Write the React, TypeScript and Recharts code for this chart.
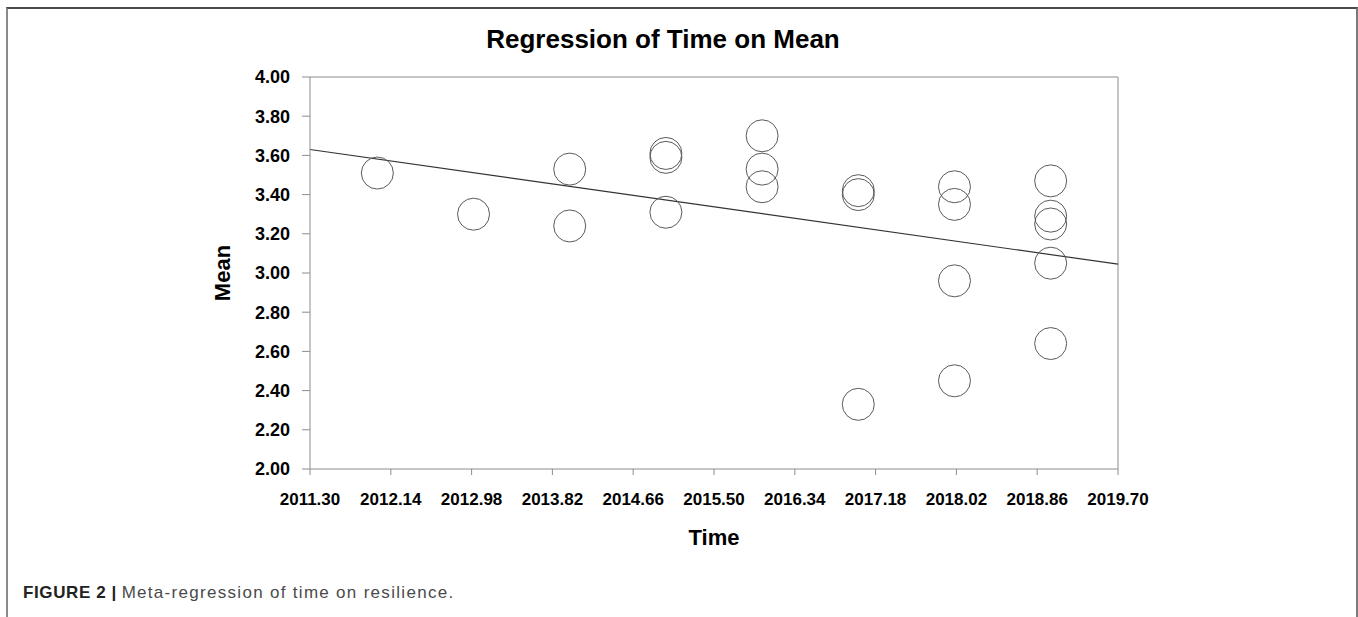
import React from 'react';
import {
  ScatterChart,
  Scatter,
  XAxis,
  YAxis,
  ReferenceLine,
} from 'recharts';

// study year and mean resilience score
const times = [2012, 2013, 2014, 2014, 2015, 2015, 2015, 2016, 2016, 2016, 2017, 2017, 2017, 2018, 2018, 2018, 2018, 2019, 2019, 2019, 2019, 2019];
const means = [3.51, 3.30, 3.53, 3.24, 3.61, 3.59, 3.31, 3.70, 3.53, 3.44, 3.42, 3.40, 2.33, 3.44, 3.35, 2.96, 2.45, 3.47, 3.29, 3.25, 3.05, 2.64];

const xTicks = [2011.3, 2012.14, 2012.98, 2013.82, 2014.66, 2015.5, 2016.34, 2017.18, 2018.02, 2018.86, 2019.7];
const yTicks = [2.0, 2.2, 2.4, 2.6, 2.8, 3.0, 3.2, 3.4, 3.6, 3.8, 4.0];

// regression line end points
const fitStart = { x: 2011.3, y: 3.63 };
const fitEnd = { x: 2019.7, y: 3.045 };

const points = times.map((t, i) => ({ time: t, mean: means[i] }));

const FONT = '"Liberation Sans", Arial, Helvetica, sans-serif';
const axisGray = '#8c8c8c';

const RingShape = (props: any) => (
  <circle cx={props.cx} cy={props.cy} r={16} fill="none" stroke="#5a5a5a" strokeWidth={1} />
);

const App = () => {
  return (
    <div style={{ position: 'absolute', left: 0, top: 0, width: 1358, height: 617, background: '#fff', fontFamily: FONT }}>
      {/* figure frame */}
      <div
        style={{
          position: 'absolute',
          left: 6,
          top: 7,
          width: 1348,
          height: 610,
          borderTop: '2px solid #4a4a4a',
          borderLeft: '2px solid #8a8a8a',
          borderRight: '2px solid #7a7a7a',
        }}
      />
      <div
        style={{
          position: 'absolute',
          left: 0,
          width: 1326,
          top: 24,
          textAlign: 'center',
          fontSize: 26,
          fontWeight: 'bold',
          color: '#000',
        }}
      >
        Regression of Time on Mean
      </div>

      <div style={{ position: 'absolute', left: 0, top: 0 }}>
        <ScatterChart width={1358} height={617} margin={{ top: 77, right: 240, bottom: 88, left: 220 }}>
          <XAxis
            type="number"
            dataKey="time"
            domain={[2011.3, 2019.7]}
            ticks={xTicks}
            tickFormatter={(v: number) => v.toFixed(2)}
            height={60}
            stroke={axisGray}
            tickSize={6}
            tickMargin={18}
            tick={{ fill: '#000', fontSize: 17, fontWeight: 'bold', fontFamily: FONT }}
            interval={0}
          />
          <YAxis
            type="number"
            dataKey="mean"
            domain={[2, 4]}
            ticks={yTicks}
            tickFormatter={(v: number) => v.toFixed(2)}
            width={90}
            stroke={axisGray}
            tickSize={8}
            tickMargin={12}
            tick={{ fill: '#000', fontSize: 18, fontWeight: 'bold', fontFamily: FONT }}
            interval={0}
          />
          <ReferenceLine y={4} stroke={axisGray} />
          <ReferenceLine x={2019.7} stroke={axisGray} />
          <ReferenceLine segment={[fitStart, fitEnd]} stroke="#333" strokeWidth={1.2} />
          <Scatter data={points} shape={RingShape} isAnimationActive={false} />
        </ScatterChart>
      </div>

      <div
        style={{
          position: 'absolute',
          left: 223,
          top: 273,
          transform: 'translate(-50%, -50%) rotate(-90deg)',
          fontSize: 22,
          fontWeight: 'bold',
          color: '#000',
        }}
      >
        Mean
      </div>
      <div
        style={{
          position: 'absolute',
          left: 614,
          width: 200,
          top: 525,
          textAlign: 'center',
          fontSize: 22,
          fontWeight: 'bold',
          color: '#000',
        }}
      >
        Time
      </div>

      <div style={{ position: 'absolute', left: 23, top: 583, fontSize: 17, color: '#4a4a4a', whiteSpace: 'nowrap' }}>
        <span style={{ fontWeight: 'bold', color: '#222', letterSpacing: 0.6 }}>FIGURE 2 |</span>{' '}
        <span style={{ letterSpacing: 1.3 }}>Meta-regression of time on resilience.</span>
      </div>
    </div>
  );
};

export default App;
